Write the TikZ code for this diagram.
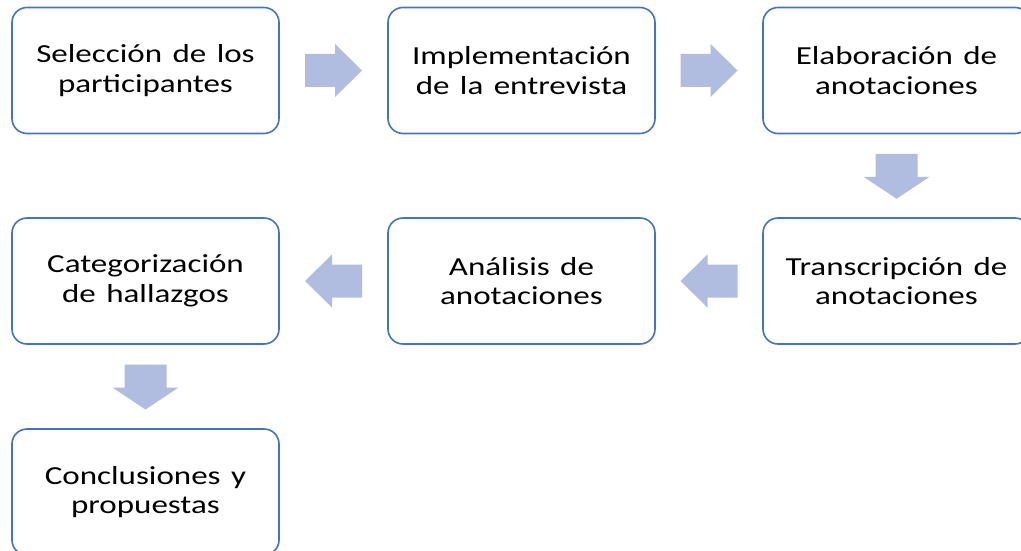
\documentclass[tikz,border=0pt]{standalone}
\usepackage{fontspec}
\setmainfont[FakeStretch=1.27,WordSpace=1.4]{Carlito}
\usetikzlibrary{calc}
\definecolor{boxblue}{RGB}{68,114,196}
\definecolor{arrfill}{RGB}{176,189,224}
\tikzset{
  stepbox/.style={draw=boxblue, line width=1.6pt, rounded corners=15pt, fill=white,
    minimum width=267pt, minimum height=126pt, inner sep=0pt, align=center,
    font=\fontsize{26}{29.5}\selectfont},
  harrow/.pic={\fill[arrfill] (-28.5,-16.5) -- (1.5,-16.5) -- (1.5,-26.5) -- (28.5,0) -- (1.5,26.5) -- (1.5,16.5) -- (-28.5,16.5) -- cycle;},
  varrow/.pic={\fill[arrfill] (-21,-22) -- (21,-22) -- (21,1) -- (33,1) -- (0,23) -- (-33,1) -- (-21,1) -- cycle;}
}
\begin{document}
\begin{tikzpicture}[x=1pt,y=-1pt]
\useasboundingbox (0,0) rectangle (1021,551);
\clip (0,0) rectangle (1021,551);
\fill[white] (0,0) rectangle (1021,551);
\node[stepbox] (b1) at (145.5,70.5) {Selección de los\\participantes};
\node[stepbox] (b2) at (521.5,70.5) {Implementación\\de la entrevista};
\node[stepbox] (b3) at (896.5,70.5) {Elaboración de\\anotaciones};
\node[stepbox] (b4) at (896.5,281) {Transcripción de\\anotaciones};
\node[stepbox] (b5) at (521.5,281) {Análisis de\\anotaciones};
\node[stepbox] (b6) at (145.5,281) {Categorización\\de hallazgos};
\node[stepbox] (b7) at (145.5,492) {Conclusiones y\\propuestas};
\coordinate (a1) at ($(b1.east)!0.5!(b2.west)$);
\coordinate (a2) at ($(b2.east)!0.5!(b3.west)$);
\coordinate (a3) at ($(b3.south)!0.5!(b4.north)$);
\coordinate (a4) at ($(b4.west)!0.5!(b5.east)$);
\coordinate (a5) at ($(b5.west)!0.5!(b6.east)$);
\coordinate (a6) at ($(b6.south)!0.5!(b7.north)$);
\pic at (a1) {harrow};
\pic at (a2) {harrow};
\pic at (a3) {varrow};
\pic[rotate=180] at (a4) {harrow};
\pic[rotate=180] at (a5) {harrow};
\pic at (a6) {varrow};
\end{tikzpicture}
\end{document}
